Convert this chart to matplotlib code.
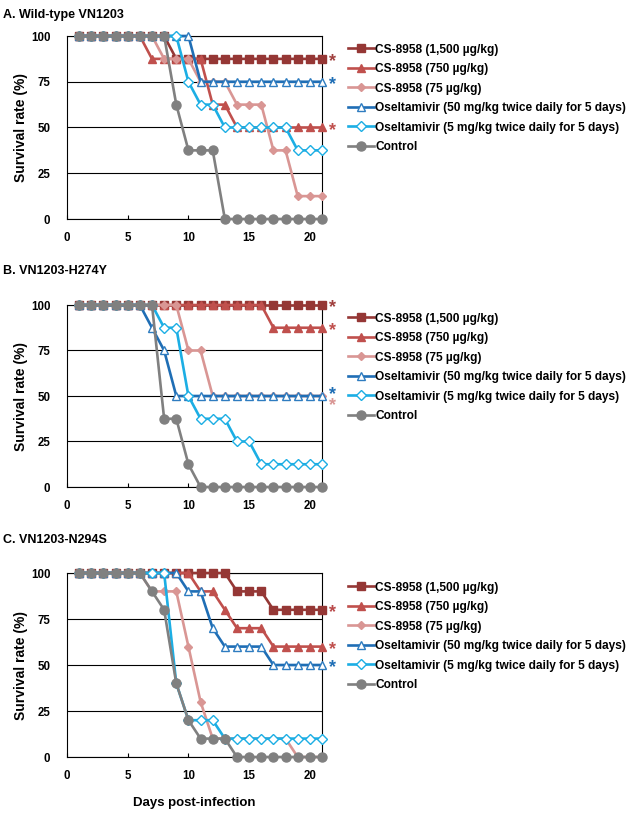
import matplotlib
matplotlib.use('Agg')
from matplotlib import pyplot as plt

plt.rcParams['font.family'] = ['Liberation Sans', 'DejaVu Sans']
plt.rcParams['font.weight'] = 'bold'

days = [1, 2, 3, 4, 5, 6, 7, 8, 9, 10, 11, 12, 13, 14, 15, 16, 17, 18, 19, 20, 21]

labels = ['CS-8958 (1,500 µg/kg)', 'CS-8958 (750 µg/kg)', 'CS-8958 (75 µg/kg)',
          'Oseltamivir (50 mg/kg twice daily for 5 days)',
          'Oseltamivir (5 mg/kg twice daily for 5 days)', 'Control']

titles = ['A. Wild-type VN1203', 'B. VN1203-H274Y', 'C. VN1203-N294S']

# panel A: wild-type
a_cs1500 = [100, 100, 100, 100, 100, 100, 100, 100, 87.5, 87.5, 87.5, 87.5, 87.5, 87.5, 87.5, 87.5, 87.5, 87.5, 87.5, 87.5, 87.5]
a_cs750 = [100, 100, 100, 100, 100, 100, 87.5, 87.5, 87.5, 87.5, 87.5, 62.5, 62.5, 50, 50, 50, 50, 50, 50, 50, 50]
a_cs75 = [100, 100, 100, 100, 100, 100, 100, 87.5, 87.5, 87.5, 75, 75, 75, 62.5, 62.5, 62.5, 37.5, 37.5, 12.5, 12.5, 12.5]
a_os50 = [100, 100, 100, 100, 100, 100, 100, 100, 100, 100, 75, 75, 75, 75, 75, 75, 75, 75, 75, 75, 75]
a_os5 = [100, 100, 100, 100, 100, 100, 100, 100, 100, 75, 62.5, 62.5, 50, 50, 50, 50, 50, 50, 37.5, 37.5, 37.5]
a_ctrl = [100, 100, 100, 100, 100, 100, 100, 100, 62.5, 37.5, 37.5, 37.5, 0, 0, 0, 0, 0, 0, 0, 0, 0]

# panel B: H274Y
b_cs1500 = [100, 100, 100, 100, 100, 100, 100, 100, 100, 100, 100, 100, 100, 100, 100, 100, 100, 100, 100, 100, 100]
b_cs750 = [100, 100, 100, 100, 100, 100, 100, 100, 100, 100, 100, 100, 100, 100, 100, 100, 87.5, 87.5, 87.5, 87.5, 87.5]
b_cs75 = [100, 100, 100, 100, 100, 100, 100, 100, 100, 75, 75, 50, 50, 50, 50, 50, 50, 50, 50, 50, 50]
b_os50 = [100, 100, 100, 100, 100, 100, 87.5, 75, 50, 50, 50, 50, 50, 50, 50, 50, 50, 50, 50, 50, 50]
b_os5 = [100, 100, 100, 100, 100, 100, 100, 87.5, 87.5, 50, 37.5, 37.5, 37.5, 25, 25, 12.5, 12.5, 12.5, 12.5, 12.5, 12.5]
b_ctrl = [100, 100, 100, 100, 100, 100, 100, 37.5, 37.5, 12.5, 0, 0, 0, 0, 0, 0, 0, 0, 0, 0, 0]

# panel C: N294S
c_cs1500 = [100, 100, 100, 100, 100, 100, 100, 100, 100, 100, 100, 100, 100, 90, 90, 90, 80, 80, 80, 80, 80]
c_cs750 = [100, 100, 100, 100, 100, 100, 100, 100, 100, 100, 90, 90, 80, 70, 70, 70, 60, 60, 60, 60, 60]
c_cs75 = [100, 100, 100, 100, 100, 100, 90, 90, 90, 60, 30, 10, 10, 10, 10, 10, 10, 10, 0, 0, 0]
c_os50 = [100, 100, 100, 100, 100, 100, 100, 100, 100, 90, 90, 70, 60, 60, 60, 60, 50, 50, 50, 50, 50]
c_os5 = [100, 100, 100, 100, 100, 100, 100, 100, 40, 20, 20, 20, 10, 10, 10, 10, 10, 10, 10, 10, 10]
c_ctrl = [100, 100, 100, 100, 100, 100, 90, 80, 40, 20, 10, 10, 10, 0, 0, 0, 0, 0, 0, 0, 0]

panels = [
    [a_cs1500, a_cs750, a_cs75, a_os50, a_os5, a_ctrl],
    [b_cs1500, b_cs750, b_cs75, b_os50, b_os5, b_ctrl],
    [c_cs1500, c_cs750, c_cs75, c_os50, c_os5, c_ctrl],
]

# significance stars: (y value, color)
stars = [
    [(87.5, '#A0403E'), (75, '#1F6EB5'), (50, '#C0504D')],
    [(100, '#A0403E'), (87.5, '#C0504D'), (52.5, '#1F6EB5'), (46, '#D99694')],
    [(80, '#B9494A'), (60, '#C0504D'), (50, '#1F6EB5')],
]

# line color, marker, face, edge, marker size
styles = [
    ('#953735', 's', '#953735', '#953735', 6),
    ('#C0504D', '^', '#C0504D', '#C0504D', 6),
    ('#D99694', 'D', '#D99694', '#D99694', 4.5),
    ('#1F6EB5', '^', 'white', '#2E7CC0', 6),
    ('#1CAEE4', 'D', 'white', '#1CAEE4', 5),
    ('#808080', 'o', '#808080', '#808080', 6.5),
]

fig = plt.figure(figsize=(6.34, 8.13), dpi=100)
W, H = 634, 813

# (top px of y=100, bottom px of y=0, title y px, legend top px)
layout = [(36, 219, 15, 43.5), (305, 487, 271, 312.5), (573, 757, 540, 581.5)]

for p in range(3):
    top, bottom, ty, ly = layout[p]
    ax = fig.add_axes([67 / W, 1 - bottom / H, (322 - 67) / W, (bottom - top) / H])
    handles = []
    for i in range(6):
        col, mk, fc, ec, ms = styles[i]
        h, = ax.plot(days, panels[p][i], color=col, lw=1.9, marker=mk, markersize=ms,
                     markerfacecolor=fc, markeredgecolor=ec, markeredgewidth=1.0,
                     clip_on=False, zorder=3 + i)
        handles.append(h)
    for val, col in stars[p]:
        ax.text(21.6, val - 1.5, '*', color=col, fontsize=13, ha='left', va='center',
                fontweight='bold', clip_on=False)
    ax.set_xlim(0, 21)
    ax.set_ylim(0, 100)
    ax.set_xticks([0, 5, 10, 15, 20])
    ax.set_yticks([0, 25, 50, 75, 100])
    ax.yaxis.grid(True, color='black', lw=0.8)
    ax.set_axisbelow(True)
    ax.tick_params(axis='x', direction='in', length=3, width=0.8, pad=9.5, labelsize=8.3)
    ax.tick_params(axis='y', length=0, pad=12, labelsize=8.3)
    for s in ax.spines.values():
        s.set_linewidth(0.8)
        s.set_color('black')
    ax.set_ylabel('Survival rate (%)', fontsize=10, fontweight='bold', labelpad=2)
    fig.text(3 / W, 1 - ty / H, titles[p], fontsize=9, fontweight='bold', ha='left', va='center')
    fig.legend(handles, labels, loc='upper left', bbox_to_anchor=(348 / W, 1 - ly / H),
               frameon=False, handlelength=2.2, handletextpad=0.1,
               labelspacing=0.63, borderpad=0, borderaxespad=0, prop={'weight': 'bold', 'size': 8.6})
    if p == 2:
        ax.set_xlabel('Days post-infection', fontsize=9.5, fontweight='bold', labelpad=11)

fig.savefig('out.png', dpi=100)
